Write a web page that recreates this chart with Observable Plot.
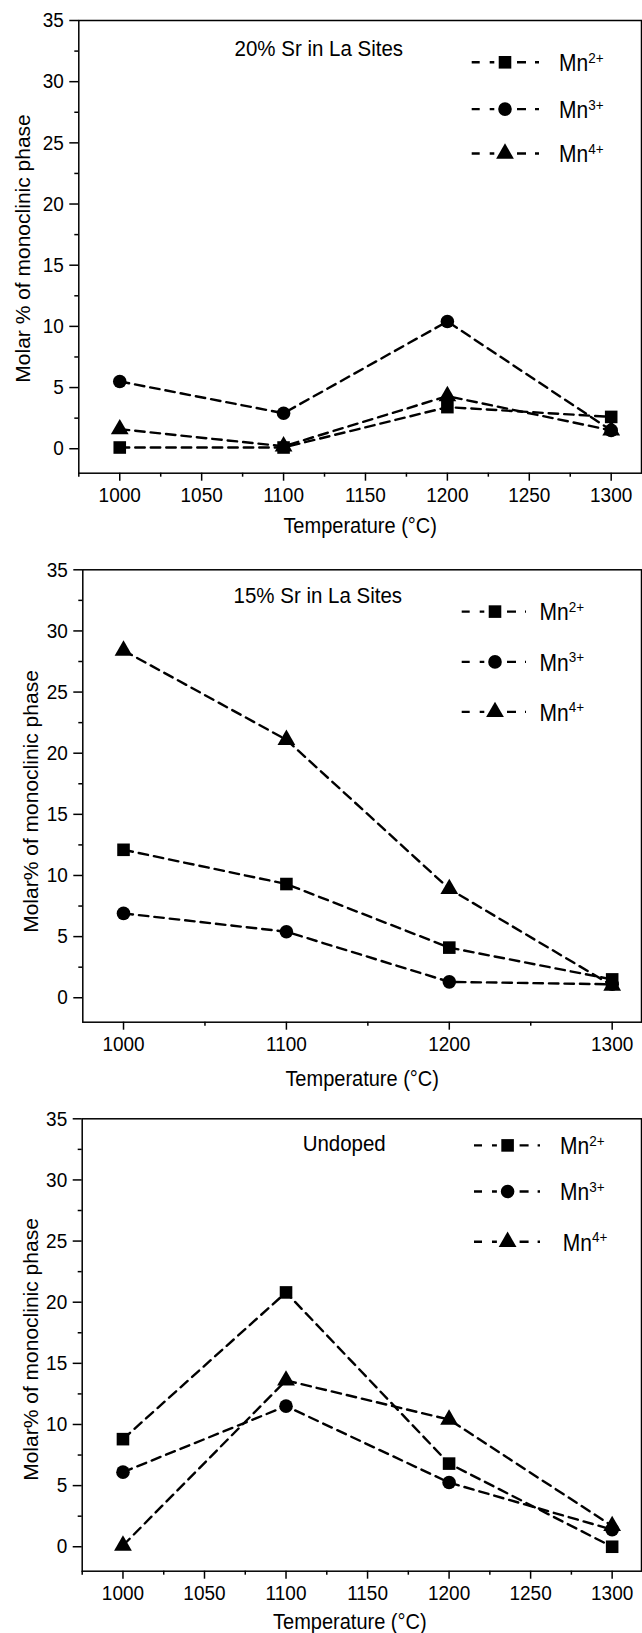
<!DOCTYPE html>
<html><head><meta charset="utf-8">
<script src="https://cdn.jsdelivr.net/npm/d3@7"></script>
<script src="https://cdn.jsdelivr.net/npm/@observablehq/plot@0.6"></script>
<style>
html,body{margin:0;padding:0;background:#fff;}
#chart svg{display:block;}
</style></head><body><div id="chart"></div>
<script>
// ---------- data ----------
const temperatures = [1000, 1100, 1200, 1300];
const ions = ["Mn2+", "Mn3+", "Mn4+"];
const ionLabels = [["Mn", "2+"], ["Mn", "3+"], ["Mn", "4+"]];
const symbols = ["square", "circle", "triangle"];

const panelTitles = ["20% Sr in La Sites", "15% Sr in La Sites", "Undoped"];
const yLabels = ["Molar % of monoclinic phase", "Molar% of monoclinic phase", "Molar% of monoclinic phase"];
const xLabel = "Temperature (\u00B0C)";

// 20% Sr in La sites
const sr20Mn2 = [0.1, 0.1, 3.4, 2.6];
const sr20Mn3 = [5.5, 2.9, 10.4, 1.5];
const sr20Mn4 = [1.6, 0.2, 4.3, 1.5];
// 15% Sr in La sites
const sr15Mn2 = [12.1, 9.3, 4.1, 1.5];
const sr15Mn3 = [6.9, 5.4, 1.3, 1.1];
const sr15Mn4 = [28.4, 21.1, 8.9, 1.0];
// Undoped
const undMn2 = [8.8, 20.8, 6.8, 0.0];
const undMn3 = [6.1, 11.5, 5.25, 1.4];
const undMn4 = [0.1, 13.6, 10.4, 1.7];

const yTicks = [0, 5, 10, 15, 20, 25, 30, 35];
const yMinorTicks = [2.5, 7.5, 12.5, 17.5, 22.5, 27.5, 32.5];
const xTicksFine = [1000, 1050, 1100, 1150, 1200, 1250, 1300];
const xMinorFine = [975, 1025, 1075, 1125, 1175, 1225, 1275];
const xTicksCoarse = [1000, 1100, 1200, 1300];
const xMinorCoarse = [1050, 1150, 1250];

// ---------- layout ----------
const FONT = "'Liberation Sans', Arial, Helvetica, sans-serif";
const symbolR = {square: 7.1, circle: 6.8, triangle: 6.6};
const STRETCH = 1.1;

const panels = [
  {series: [sr20Mn2, sr20Mn3, sr20Mn4], height: 545, marginTop: 20, marginBottom: 72.3, marginLeft: 78.3,
   xDomain: [975, 1318.5], xMajor: xTicksFine, xMinor: xMinorFine,
   title: panelTitles[0], titleDx: 240, titleDy: 28.2, yLabel: yLabels[0], yDx: -55.8, yDy: 1.6,
   xDy: 52.3, xDx: 0,
   legend: {rows: [62.3, 109.1, 153.5], x1: 471.7, mx: 505, x2: 539, tx: [559, 559, 559]}},
  {series: [sr15Mn2, sr15Mn3, sr15Mn4], height: 550, marginTop: 24.3, marginBottom: 73.3, marginLeft: 82.3,
   xDomain: [975, 1318], xMajor: xTicksCoarse, xMinor: xMinorCoarse,
   title: panelTitles[1], titleDx: 235, titleDy: 25.7, yLabel: yLabels[1], yDx: -51.6, yDy: 5.5,
   xDy: 57, xDx: 0,
   legend: {rows: [66.6, 116.9, 166.9], x1: 461.7, mx: 495, x2: 526, tx: [539.5, 539.5, 539.5]}},
  {series: [undMn2, undMn3, undMn4], height: 538, marginTop: 23.3, marginBottom: 62.3, marginLeft: 81.7,
   xDomain: [975, 1318], xMajor: xTicksFine, xMinor: xMinorFine,
   title: panelTitles[2], titleDx: 262, titleDy: 25.3, yLabel: yLabels[2], yDx: -51, yDy: 4.5,
   xDy: 50.3, xDx: -12,
   legend: {rows: [50.4, 96.5, 146.8], x1: 474, mx: 507.6, x2: 540, tx: [560, 560, 562.8]}}
];

function makePanel(p) {
  const rows = [];
  p.series.forEach((vals, s) => vals.forEach((v, i) => rows.push({temp: temperatures[i], value: v, ion: ions[s]})));
  const lineMarks = ions.map(ion => Plot.line(rows.filter(r => r.ion === ion), {
    x: "temp", y: "value", stroke: "black", strokeWidth: 2.4, strokeDasharray: "9.5,6"
  }));
  const dotMarks = ions.map((ion, s) => Plot.dot(rows.filter(r => r.ion === ion), {
    x: "temp", y: "value", symbol: symbols[s], r: symbolR[symbols[s]], fill: "black", stroke: "none"
  }));
  const svg = Plot.plot({
    width: 642, height: p.height,
    marginTop: p.marginTop, marginBottom: p.marginBottom, marginLeft: p.marginLeft, marginRight: 1,
    x: {domain: p.xDomain},
    y: {domain: [-2, 35]},
    style: {fontFamily: FONT, color: "black", background: "white", overflow: "visible"},
    marks: [
      Plot.axisY({ticks: yTicks, tickSize: 9, tickPadding: 6, fontSize: 19, label: null, strokeWidth: 1.5, tickFormat: d => String(d)}),
      Plot.axisY({ticks: yMinorTicks, tickSize: 4, label: null, strokeWidth: 1.5, tickFormat: () => ""}),
      Plot.axisX({ticks: p.xMajor, tickSize: 8, tickPadding: 7, fontSize: 19, label: null, strokeWidth: 1.5, tickFormat: d => String(d)}),
      Plot.axisX({ticks: p.xMinor, tickSize: 4, label: null, strokeWidth: 1.5, tickFormat: () => ""}),
      Plot.frame({stroke: "black", strokeWidth: 1.5}),
      ...lineMarks,
      ...dotMarks,
      Plot.text([p.title], {text: d => d, frameAnchor: "top-left", dx: p.titleDx, dy: p.titleDy,
        textAnchor: "middle", lineAnchor: "middle", fontSize: 20.5, fill: "black"}),
      Plot.text([xLabel], {text: d => d, frameAnchor: "bottom", dx: p.xDx, dy: p.xDy,
        textAnchor: "middle", lineAnchor: "middle", fontSize: 20, fill: "black"}),
      Plot.text([p.yLabel], {text: d => d, frameAnchor: "left", rotate: -90, dx: p.yDx, dy: p.yDy,
        textAnchor: "middle", lineAnchor: "middle", fontSize: 21, fill: "black"})
    ]
  });

  // legend
  const L = p.legend;
  const g = d3.select(svg).append("g").attr("class", "legend");
  L.rows.forEach((ry, i) => {
    g.append("line").attr("x1", L.x1).attr("x2", L.mx - 10.7).attr("y1", ry).attr("y2", ry)
      .attr("stroke", "black").attr("stroke-width", 2.4).attr("stroke-dasharray", "8,10,5");
    g.append("line").attr("x1", L.mx + 12).attr("x2", L.x2).attr("y1", ry).attr("y2", ry)
      .attr("stroke", "black").attr("stroke-width", 2.4).attr("stroke-dasharray", "9,9,5");
    const sym = {square: d3.symbolSquare, circle: d3.symbolCircle, triangle: d3.symbolTriangle}[symbols[i]];
    const r = symbolR[symbols[i]];
    g.append("path").attr("d", d3.symbol(sym, r * r * Math.PI)())
      .attr("transform", `translate(${L.mx},${ry})`).attr("fill", "black");
    const t = g.append("text").attr("x", L.tx[i]).attr("y", ry + 8)
      .attr("text-anchor", "start")
      .attr("font-family", FONT).attr("font-size", 21).attr("fill", "black");
    t.append("tspan").text(ionLabels[i][0]);
    t.append("tspan").attr("dy", -7.5).attr("font-size", 13.5).text(ionLabels[i][1]);
  });
  return svg;
}

const root = document.getElementById("chart");
panels.forEach(p => {
  const svg = makePanel(p);
  root.appendChild(svg);
  // the reference's lettering is slightly taller than wide: stretch horizontal texts vertically
  svg.querySelectorAll("text").forEach(el => {
    const tr = el.getAttribute("transform") || "";
    if (tr.includes("rotate")) return;
    if (!el.textContent.trim()) return;
    const b = el.getBBox();
    const cy = b.y + b.height / 2;
    el.setAttribute("transform", `${tr} translate(0,${cy}) scale(1,${STRETCH}) translate(0,${-cy})`.trim());
  });
});
</script>
</body></html>
